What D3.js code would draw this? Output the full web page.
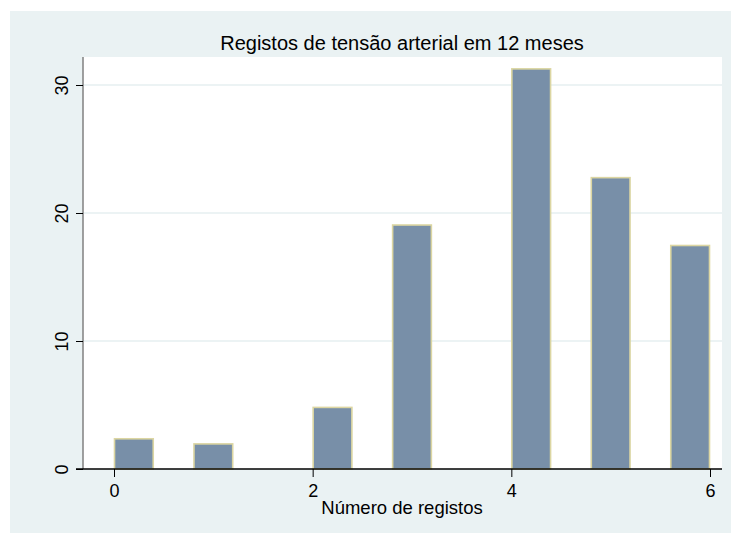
<!DOCTYPE html>
<html>
<head>
<meta charset="utf-8">
<script src="https://cdn.jsdelivr.net/npm/d3@7"></script>
<style>
  html, body { margin: 0; padding: 0; background: #ffffff; }
  svg { display: block; }
  text { font-family: "Liberation Sans", Arial, sans-serif; fill: #000; }
</style>
</head>
<body>
<script>
// Histogram bins: left edge, width (units of x) and percent
const binStarts = [0, 0.8, 2.0, 2.8, 4.0, 4.8, 5.6];
const binWidth = 0.4;
const percents = [2.4, 2.0, 4.85, 19.1, 31.3, 22.8, 17.5];
const xTicks = [0, 2, 4, 6];
const yTicks = [0, 10, 20, 30];
const titleText = "Registos de tensão arterial em 12 meses";
const xLabel = "Número de registos";

const W = 731, H = 533;
const svg = d3.select("body").append("svg").attr("width", W).attr("height", H);

// outer graph region
svg.append("rect").attr("x", 10).attr("y", 11).attr("width", W - 10).attr("height", H - 11)
  .attr("fill", "#eaf2f3");

const plot = { left: 83, right: 722, top: 57, bottom: 469 };
svg.append("rect").attr("x", plot.left).attr("y", plot.top)
  .attr("width", plot.right - plot.left).attr("height", plot.bottom - plot.top)
  .attr("fill", "#ffffff");

const x = d3.scaleLinear().domain([0, 6]).range([114, 710]);
const y = d3.scaleLinear().domain([0, 30]).range([plot.bottom, 85]);

// gridlines
svg.append("g").selectAll("line").data(yTicks.filter(d => d > 0)).join("line")
  .attr("x1", plot.left).attr("x2", plot.right)
  .attr("y1", d => y(d)).attr("y2", d => y(d))
  .attr("stroke", "#e6eff1").attr("stroke-width", 1.4);

// bars
svg.append("g").selectAll("rect").data(binStarts.map((s, i) => ({ s, v: percents[i] }))).join("rect")
  .attr("x", d => x(d.s) + 0.5)
  .attr("width", d => x(d.s + binWidth) - x(d.s) - 1)
  .attr("y", d => y(d.v) + 0.5)
  .attr("height", d => y(0) - y(d.v) - 0.5)
  .attr("fill", "#788fa8")
  .attr("stroke", "#dcd6a2").attr("stroke-width", 1.6);

// y axis
const yAxis = svg.append("g").attr("transform", `translate(${plot.left},0)`)
  .call(d3.axisLeft(y).tickValues(yTicks).tickSize(7).tickFormat(d3.format("d")));
yAxis.select(".domain").attr("d", `M0,${plot.top}V${plot.bottom}`).attr("stroke", "#808080").attr("stroke-width", 1.5);
yAxis.selectAll(".tick line").attr("stroke", "#000");
yAxis.selectAll(".tick text")
  .attr("font-size", 18).attr("font-family", "Liberation Sans, Arial, sans-serif")
  .attr("text-anchor", "middle").attr("x", null)
  .attr("transform", "translate(-15,0) rotate(-90)")
  .attr("dy", "0");

// x axis
const xAxis = svg.append("g").attr("transform", `translate(0,${plot.bottom})`)
  .call(d3.axisBottom(x).tickValues(xTicks).tickSize(8).tickFormat(d3.format("d")));
xAxis.select(".domain").attr("d", `M${plot.left - 7},0H${plot.right}`).attr("stroke", "#000").attr("stroke-width", 1.3);
xAxis.selectAll(".tick line").attr("stroke", "#000");
xAxis.selectAll(".tick text").attr("font-size", 18).attr("font-family", "Liberation Sans, Arial, sans-serif")
  .attr("y", 28).attr("dy", "0");

// titles
svg.append("text").attr("x", 402).attr("y", 50).attr("text-anchor", "middle")
  .attr("font-size", 20).text(titleText);
svg.append("text").attr("x", 402).attr("y", 514).attr("text-anchor", "middle")
  .attr("font-size", 18.5).text(xLabel);
</script>
</body>
</html>
